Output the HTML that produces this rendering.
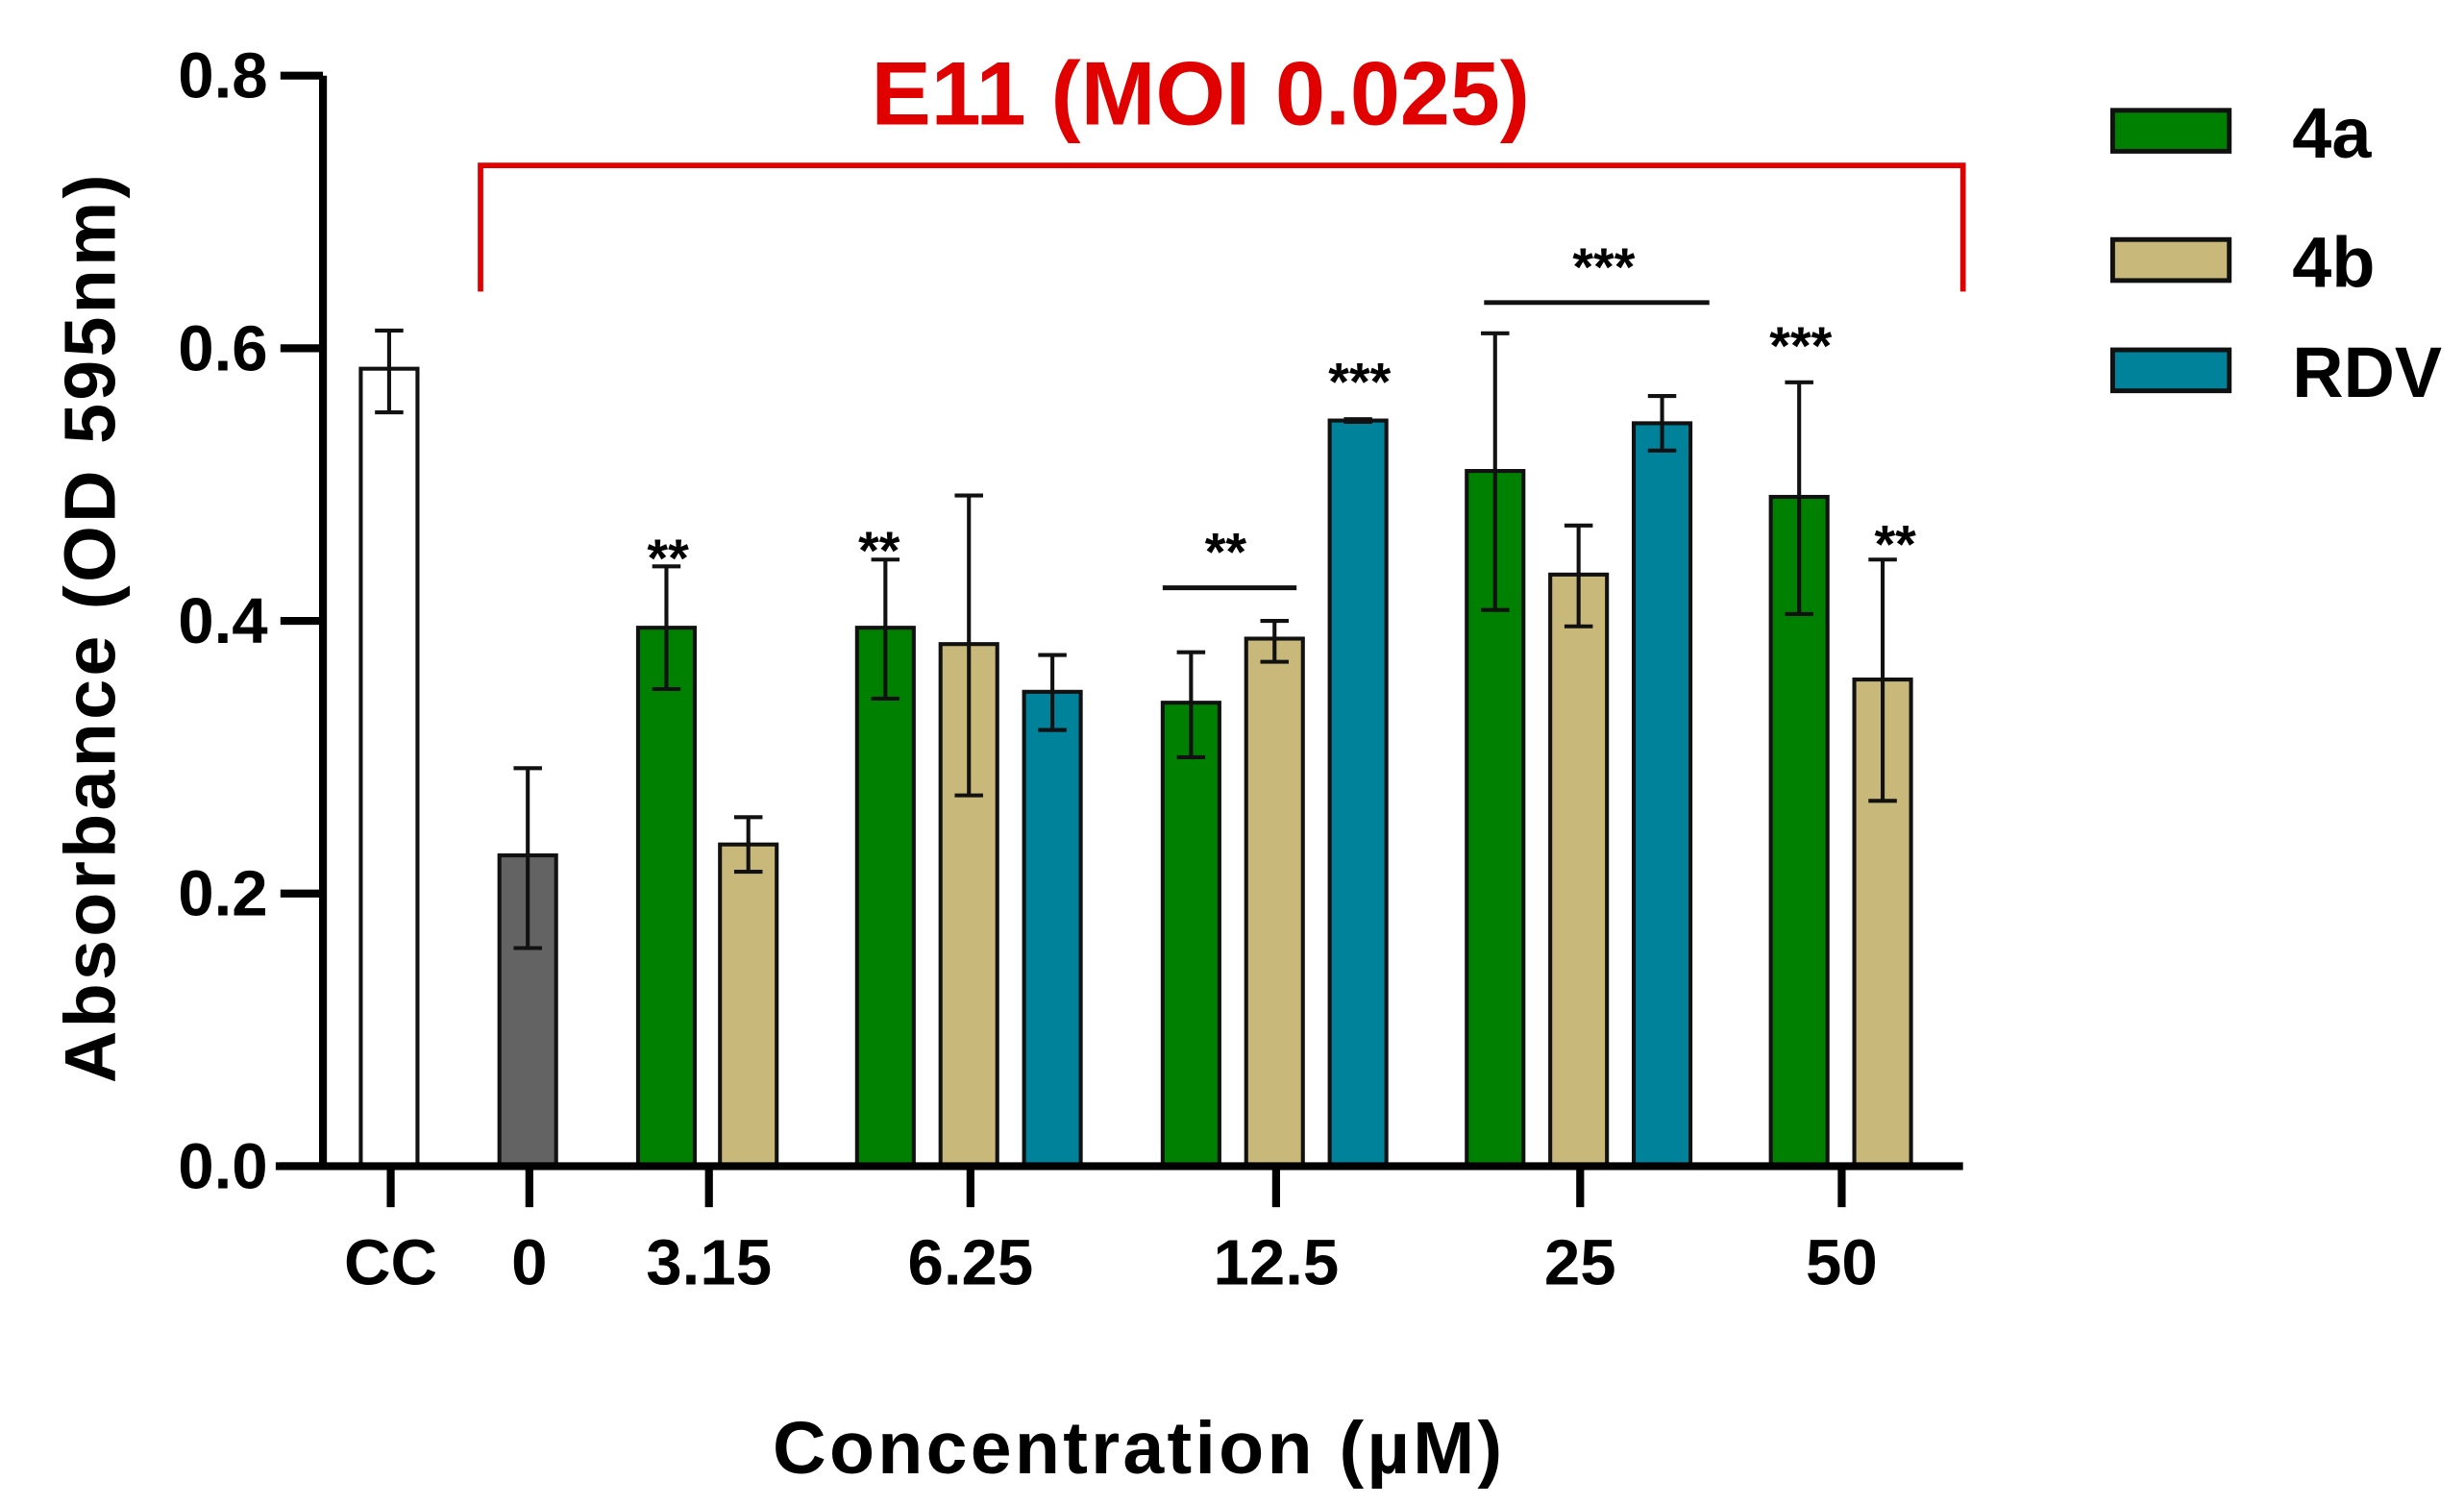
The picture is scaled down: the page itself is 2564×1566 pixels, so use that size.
<!DOCTYPE html>
<html><head><meta charset="utf-8"><style>
html,body{margin:0;padding:0;background:#fff}
svg{display:block}
text{font-family:"Liberation Sans",Arial,sans-serif;font-weight:bold}
</style></head><body>
<svg id="chart" width="2564" height="1566" viewBox="0 0 1564 955" preserveAspectRatio="none" xmlns="http://www.w3.org/2000/svg">
<g id="bars"></g>
<g id="axes"></g>
<g>
<text x="762" y="79" font-size="57" fill="#e00000" text-anchor="middle">E11 (MOI 0.025)</text>
<polyline points="305,185 305,105 1246,105 1246,185" fill="none" stroke="#e00000" stroke-width="3.5"/>
</g>
<text transform="translate(73,398) rotate(-90)" font-size="46" text-anchor="middle" letter-spacing="2">Absorbance (OD 595nm)</text>
<text x="723" y="935" font-size="47" text-anchor="middle" letter-spacing="2">Concentration (µM)</text>
<g>
<rect x="1341" y="70" width="74" height="26" fill="#008000" stroke="#111" stroke-width="3"/>
<text x="1455" y="100" font-size="45">4a</text>
<rect x="1341" y="152" width="74" height="26" fill="#c8b97a" stroke="#111" stroke-width="3"/>
<text x="1455" y="182" font-size="45">4b</text>
<rect x="1341" y="222" width="74" height="26" fill="#00829b" stroke="#111" stroke-width="3"/>
<text x="1455" y="252" font-size="45">RDV</text>
</g>
<g font-size="34" text-anchor="middle">
<text x="424" y="366">**</text>
<text x="558" y="361">**</text>
<text x="778" y="362">**</text>
<line x1="738" y1="373" x2="823" y2="373" stroke="#111" stroke-width="3"/>
<text x="863" y="254">***</text>
<text x="1018" y="181">***</text>
<line x1="942" y1="192" x2="1085" y2="192" stroke="#111" stroke-width="3"/>
<text x="1143" y="231">***</text>
<text x="1203" y="357">**</text>
</g>
</svg>
<script>
const categories = ["CC","0","3.15","6.25","12.5","25","50"];
const tickX = [248,336,450,616,810,1003,1169];
const barNames = ["cc","0","3.15-4a","3.15-4b","6.25-4a","6.25-4b","6.25-rdv","12.5-4a","12.5-4b","12.5-rdv","25-4a","25-4b","25-rdv","50-4a","50-4b"];
const barSeries = ["cc","virus","4a","4b","4a","4b","rdv","4a","4b","rdv","4a","4b","rdv","4a","4b"];
const barValues = [0.585,0.228,0.395,0.236,0.395,0.383,0.348,0.340,0.387,0.547,0.510,0.434,0.545,0.491,0.357];
const errLow = [0.553,0.160,0.350,0.216,0.343,0.272,0.320,0.300,0.370,0.546,0.408,0.396,0.525,0.405,0.268];
const errHigh = [0.613,0.292,0.440,0.256,0.445,0.492,0.375,0.377,0.400,0.548,0.611,0.470,0.565,0.575,0.445];
const barLeft = [229,317,405,457,544,597,650,738,791,844,931,984,1037,1124,1177];
const yTicks = [0.0,0.2,0.4,0.6,0.8];
const yTickLabels = ["0.0","0.2","0.4","0.6","0.8"];
const colors = {cc:"#ffffff",virus:"#636363","4a":"#008000","4b":"#c8b97a",rdv:"#00829b"};
const NS="http://www.w3.org/2000/svg";
const y = v => 740 - v*865;
const BW = 36;
const bars = document.getElementById('bars');
const axes = document.getElementById('axes');
function mk(tag, attrs){const e=document.createElementNS(NS,tag);for(const k in attrs)e.setAttribute(k,attrs[k]);return e;}
barValues.forEach((v,i)=>{
  const r = mk('rect',{x:barLeft[i],y:y(v),width:BW,height:740-y(v),fill:colors[barSeries[i]],stroke:"#111","stroke-width":2.5});
  
  
  bars.appendChild(r);
  const cx = barLeft[i]+BW/2;
  const g = mk('path',{d:`M${cx},${y(errLow[i])}V${y(errHigh[i])}M${cx-9},${y(errLow[i])}H${cx+9}M${cx-9},${y(errHigh[i])}H${cx+9}`,stroke:"#111","stroke-width":2.5,fill:"none"});
  
  
  bars.appendChild(g);
});
const yAxis = mk('path',{d:"M205,740V48",stroke:"#000","stroke-width":5});


axes.appendChild(yAxis);
const xAxis = mk('path',{d:"M175,740H1246",stroke:"#000","stroke-width":5});


axes.appendChild(xAxis);
yTicks.forEach((t,i)=>{
  const l = mk('path',{d:`M178,${y(t)}H205`,stroke:"#000","stroke-width":5});
  
  
  axes.appendChild(l);
  const tx = mk('text',{x:170,y:y(t)+14,"font-size":41,"text-anchor":"end"});
  tx.textContent = yTickLabels[i];
  
  
  axes.appendChild(tx);
});
categories.forEach((c,i)=>{
  const l = mk('path',{d:`M${tickX[i]},740V766`,stroke:"#000","stroke-width":5});
  
  
  axes.appendChild(l);
  const tx = mk('text',{x:tickX[i],y:815,"font-size":41,"text-anchor":"middle"});
  tx.textContent = c;
  
  
  axes.appendChild(tx);
});
</script>
</body></html>
